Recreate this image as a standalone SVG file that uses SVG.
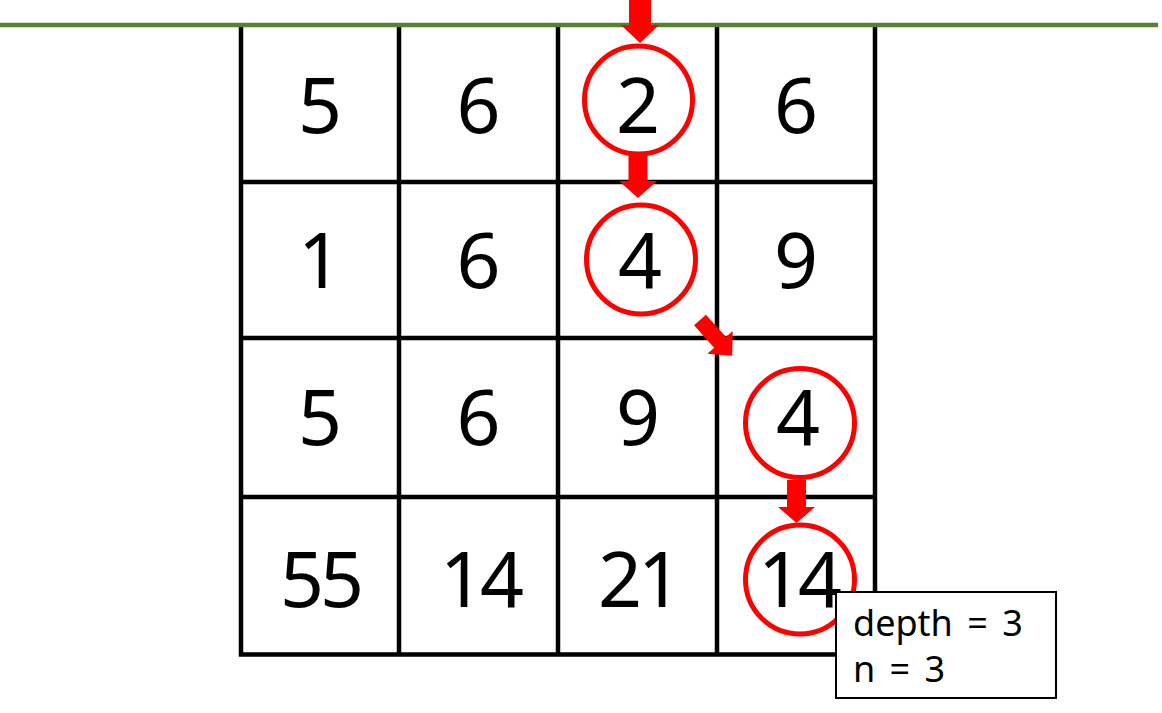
<svg xmlns="http://www.w3.org/2000/svg" width="1162" height="713" viewBox="0 0 1162 713">
<style>
.grid{stroke:#000;stroke-width:4.5;fill:none}
.num{font-family:"Noto Sans","Noto Sans CJK KR",sans-serif;font-size:77px;fill:#000;text-anchor:middle}
.ring{fill:none;stroke:#FF0000;stroke-width:5}
.arr{fill:#FF0000;stroke:none}
.lbl{font-family:"Noto Sans","Noto Sans CJK KR",sans-serif;font-size:36px;fill:#000;word-spacing:5px}
</style>
<defs>
<path id="darrow" d="M-10,0 H10 V-17 H-10 Z"/>
</defs>
<rect width="1162" height="713" fill="#fff"/>
<g id="grid">
<path class="grid" d="M241,25 V654.5 M399,25 V654.5 M558,25 V654.5 M717,25 V654.5 M875,25 V654.5 M238.75,182 H877.25 M238.75,338 H877.25 M238.75,497 H877.25 M238.75,654.5 H877.25"/>
</g>
<g id="top-line">
<line x1="0" y1="25" x2="1158" y2="25" stroke="#548235" stroke-width="4.5"/>
</g>
<g id="cells">
<text class="num" x="320" y="133">5</text>
<text class="num" x="478.5" y="133">6</text>
<text class="num" x="638" y="133">2</text>
<text class="num" x="796" y="133">6</text>
<text class="num" x="320" y="288">1</text>
<text class="num" x="478.5" y="288">6</text>
<text class="num" x="640" y="288">4</text>
<text class="num" x="796" y="288">9</text>
<text class="num" x="320" y="445">5</text>
<text class="num" x="478.5" y="445">6</text>
<text class="num" x="638" y="445">9</text>
<text class="num" x="798" y="445">4</text>
<text class="num" x="320" y="607" letter-spacing="-4">55</text>
<text class="num" x="480" y="607" letter-spacing="-4">14</text>
<text class="num" x="638" y="607" letter-spacing="-4">21</text>
<text class="num" x="798" y="607" letter-spacing="-4">14</text>
</g>
<g id="circles">
<circle class="ring" cx="638.5" cy="100" r="54"/>
<circle class="ring" cx="641" cy="259.5" r="54.5"/>
<circle class="ring" cx="800" cy="423" r="54.5"/>
<circle class="ring" cx="800" cy="579.5" r="54.5"/>
</g>
<g id="connectors">
<polygon class="arr" points="629,0 651,0 651,25 659,25 640,43 621,25 629,25"/>
<polygon class="arr" points="628.5,152 647.5,152 647.5,181 657,181 638,198 619,181 628.5,181"/>
<polygon class="arr" points="0,-8 30,-8 30,-17 48,0 30,17 30,8 0,8" transform="translate(700,320) rotate(48)"/>
<polygon class="arr" points="787,480 806,480 806,507 815,507 796.5,523 778,507 787,507"/>
</g>
<g id="info-box">
<rect x="836" y="592" width="220" height="106" fill="#fff" stroke="#000" stroke-width="2"/>
<text class="lbl" x="853" y="636">depth = 3</text>
<text class="lbl" x="853" y="682">n = 3</text>
</g>
</svg>
